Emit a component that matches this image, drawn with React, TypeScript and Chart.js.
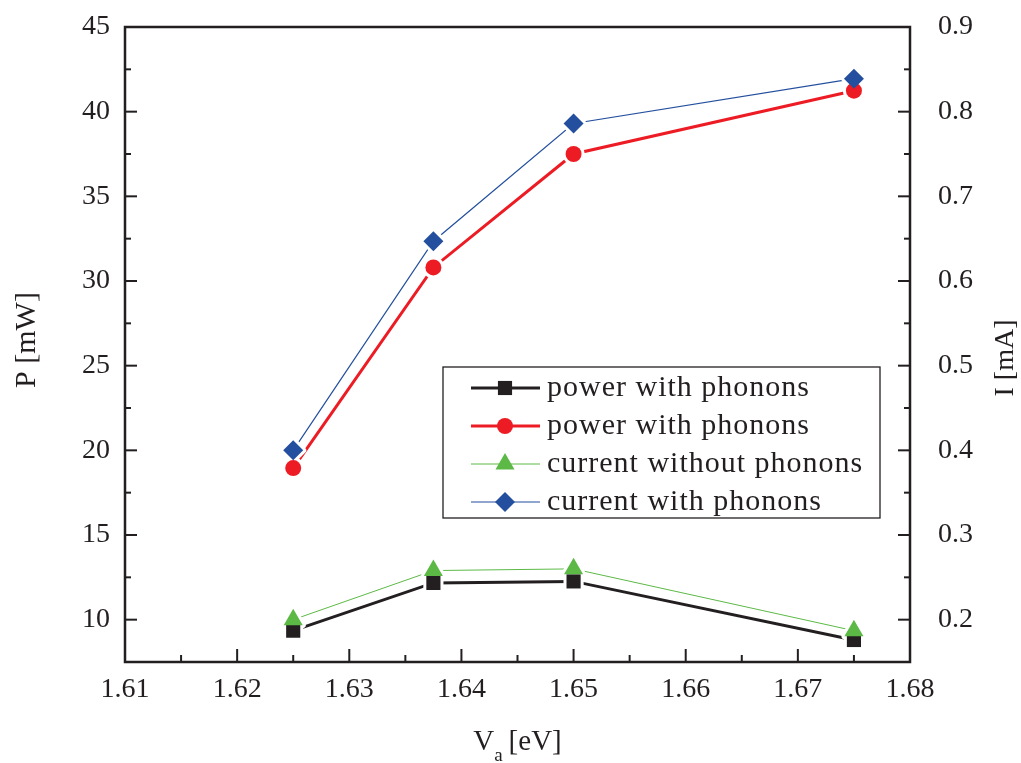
import React, { useEffect, useRef } from "react";
import { Chart, registerables } from "chart.js";

Chart.register(...registerables);

const voltages = [1.625, 1.6375, 1.65, 1.675];
const powerNoPhonons = [9.35, 12.17, 12.26, 8.8];
const powerWithPhonons = [18.95, 30.8, 37.5, 41.24];
const currentWithoutPhonons = [0.2, 0.258, 0.26, 0.187];
const currentWithPhonons = [0.4, 0.647, 0.786, 0.839];

const seriesLabels = [
  "power with phonons",
  "power with phonons",
  "current without phonons",
  "current with phonons",
];

const xMajorTicks = [1.61, 1.62, 1.63, 1.64, 1.65, 1.66, 1.67, 1.68];
const xMinorTicks = [1.615, 1.625, 1.635, 1.645, 1.655, 1.665, 1.675];
const leftMajorTicks = [10, 15, 20, 25, 30, 35, 40, 45];
const leftMinorTicks = [12.5, 17.5, 22.5, 27.5, 32.5, 37.5, 42.5];
const rightMajorTicks = [0.2, 0.3, 0.4, 0.5, 0.6, 0.7, 0.8, 0.9];
const rightMinorTicks = [0.25, 0.35, 0.45, 0.55, 0.65, 0.75, 0.85];

const INK = "#231f20";
const BLACK = "#231f20";
const RED = "#ed1c24";
const GREEN = "#5cb946";
const BLUE = "#244f9e";
const FONT = "'Liberation Serif', 'Times New Roman', serif";

const markerStyles = ["rect", "circle", "triangle", "rectRot"];
const markerRadii = [10, 8, 11, 10];
const HALO = 6;

const pts = (ys: number[]) => voltages.map((x, i) => ({ x, y: ys[i] }));

function markerPath(ctx: CanvasRenderingContext2D, style: string, r: number, x: number, y: number) {
  ctx.beginPath();
  if (style === "rect") {
    const s = r * Math.SQRT1_2;
    ctx.rect(x - s, y - s, 2 * s, 2 * s);
  } else if (style === "circle") {
    ctx.arc(x, y, r, 0, Math.PI * 2);
  } else if (style === "triangle") {
    ctx.moveTo(x, y - r);
    ctx.lineTo(x + r * Math.sin(Math.PI * 2 / 3), y - r * Math.cos(Math.PI * 2 / 3));
    ctx.lineTo(x - r * Math.sin(Math.PI * 2 / 3), y - r * Math.cos(Math.PI * 2 / 3));
    ctx.closePath();
  } else {
    ctx.moveTo(x, y - r);
    ctx.lineTo(x + r, y);
    ctx.lineTo(x, y + r);
    ctx.lineTo(x - r, y);
    ctx.closePath();
  }
}

const zeroPad = (s: any) => {
  s.paddingTop = 0;
  s.paddingBottom = 0;
  s.paddingLeft = 0;
  s.paddingRight = 0;
};

const markersPlugin = {
  id: "markers",
  afterDatasetsDraw(chart: any) {
    const { ctx } = chart;
    ctx.save();
    const n = chart.data.datasets.length;
    // pass 1: white halos that open a small gap in the lines
    for (let i = 0; i < n; i++) {
      const meta = chart.getDatasetMeta(i);
      meta.data.forEach((el: any) => {
        markerPath(ctx, markerStyles[i], markerRadii[i], el.x, el.y);
        ctx.lineJoin = "round";
        ctx.lineWidth = HALO;
        ctx.strokeStyle = "#ffffff";
        ctx.stroke();
      });
    }
    // pass 2: filled markers
    for (let i = 0; i < n; i++) {
      const meta = chart.getDatasetMeta(i);
      const color = chart.data.datasets[i].borderColor;
      meta.data.forEach((el: any) => {
        markerPath(ctx, markerStyles[i], markerRadii[i], el.x, el.y);
        ctx.fillStyle = color;
        ctx.fill();
      });
    }
    ctx.restore();
  },
};

const framePlugin = {
  id: "frameAndExtras",
  afterDraw(chart: any) {
    const { ctx, chartArea: a, scales } = chart;
    const sx = scales.x;
    const sy = scales.y;
    const sy2 = scales.y2;
    ctx.save();
    ctx.strokeStyle = INK;
    ctx.lineCap = "butt";
    ctx.lineWidth = 2;
    const seg = (x1: number, y1: number, x2: number, y2: number) => {
      ctx.beginPath();
      ctx.moveTo(x1, y1);
      ctx.lineTo(x2, y2);
      ctx.stroke();
    };
    xMajorTicks.forEach((v) => {
      const p = sx.getPixelForValue(v);
      seg(p, a.bottom, p, a.bottom - 13);
    });
    xMinorTicks.forEach((v) => {
      const p = sx.getPixelForValue(v);
      seg(p, a.bottom, p, a.bottom - 7);
    });
    leftMajorTicks.forEach((v) => {
      const p = sy.getPixelForValue(v);
      seg(a.left, p, a.left + 12, p);
    });
    leftMinorTicks.forEach((v) => {
      const p = sy.getPixelForValue(v);
      seg(a.left, p, a.left + 6, p);
    });
    rightMajorTicks.forEach((v) => {
      const p = sy2.getPixelForValue(v);
      seg(a.right, p, a.right - 12, p);
    });
    rightMinorTicks.forEach((v) => {
      const p = sy2.getPixelForValue(v);
      seg(a.right, p, a.right - 6, p);
    });
    ctx.lineWidth = 2.5;
    ctx.strokeRect(a.left, a.top, a.right - a.left, a.bottom - a.top);

    ctx.fillStyle = INK;
    ctx.textAlign = "center";
    ctx.textBaseline = "middle";
    ctx.font = `30px ${FONT}`;
    ctx.save();
    ctx.translate(27, 340);
    ctx.rotate(-Math.PI / 2);
    ctx.fillText("P [mW]", 0, 0);
    ctx.restore();
    ctx.font = `28px ${FONT}`;
    ctx.save();
    ctx.translate(1006, 358);
    ctx.rotate(-Math.PI / 2);
    ctx.fillText("I [mA]", 0, 0);
    ctx.restore();

    ctx.textAlign = "left";
    ctx.textBaseline = "alphabetic";
    const big = `29px ${FONT}`;
    const small = `19px ${FONT}`;
    ctx.font = big;
    const wV = ctx.measureText("V").width;
    const wRest = ctx.measureText("[eV]").width;
    ctx.font = small;
    const wA = ctx.measureText("a").width;
    const gap = 6;
    const total = wV + wA + gap + wRest;
    let tx = (a.left + a.right) / 2 - total / 2;
    const base = 750;
    ctx.font = big;
    ctx.fillText("V", tx, base);
    tx += wV;
    ctx.font = small;
    ctx.fillText("a", tx, base + 11);
    tx += wA + gap;
    ctx.font = big;
    ctx.fillText("[eV]", tx, base);

    const lx = 443;
    const ly = 367;
    const lw = 437;
    const lh = 151;
    ctx.fillStyle = "#ffffff";
    ctx.fillRect(lx, ly, lw, lh);
    ctx.lineWidth = 1.3;
    ctx.strokeStyle = INK;
    ctx.strokeRect(lx, ly, lw, lh);
    const rows = [388, 426, 464, 502];
    chart.data.datasets.forEach((ds: any, i: number) => {
      const ry = rows[i];
      ctx.strokeStyle = ds.borderColor;
      ctx.lineWidth = ds.borderWidth;
      seg(471, ry, 540, ry);
      markerPath(ctx, markerStyles[i], markerRadii[i], 505, ry);
      ctx.fillStyle = ds.borderColor;
      ctx.fill();
      ctx.fillStyle = INK;
      ctx.font = `30px ${FONT}`;
      (ctx as any).letterSpacing = "1px";
      ctx.textAlign = "left";
      ctx.textBaseline = "middle";
      ctx.fillText(seriesLabels[i], 547, ry);
      (ctx as any).letterSpacing = "0px";
    });
    ctx.restore();
  },
};

export default function App() {
  const ref = useRef<HTMLCanvasElement | null>(null);
  useEffect(() => {
    if (!ref.current) return;
    const tickFont = { family: FONT, size: 28 };
    const colors = [BLACK, RED, GREEN, BLUE];
    const values = [powerNoPhonons, powerWithPhonons, currentWithoutPhonons, currentWithPhonons];
    const axes = ["y", "y", "y2", "y2"];
    const widths = [3, 3, 1, 1.2];
    const chart = new Chart(ref.current, {
      type: "line",
      data: {
        datasets: values.map((vals, i) => ({
          label: seriesLabels[i],
          data: pts(vals),
          yAxisID: axes[i],
          borderColor: colors[i],
          backgroundColor: colors[i],
          borderWidth: widths[i],
          pointStyle: markerStyles[i] as any,
          pointRadius: 0,
          pointHoverRadius: 0,
        })),
      },
      options: {
        responsive: false,
        animation: false,
        layout: { padding: { top: 27, left: 0, right: 0, bottom: 0 } },
        plugins: {
          legend: { display: false },
          tooltip: { enabled: false },
          title: { display: false },
        },
        elements: { line: { tension: 0 } },
        scales: {
          x: {
            type: "linear",
            min: 1.61,
            max: 1.68,
            grid: { display: false, drawTicks: false },
            border: { display: false },
            afterBuildTicks: (s: any) => {
              s.ticks = xMajorTicks.map((v) => ({ value: v }));
            },
            afterFit: (s: any) => {
              s.height = 101;
              zeroPad(s);
            },
            ticks: {
              font: tickFont,
              color: INK,
              padding: 11,
              maxRotation: 0,
              autoSkip: false,
              callback: (v: any) => Number(v).toFixed(2),
            },
          },
          y: {
            type: "linear",
            position: "left",
            min: 7.5,
            max: 45,
            grid: { display: false, drawTicks: false },
            border: { display: false },
            afterBuildTicks: (s: any) => {
              s.ticks = leftMajorTicks.map((v) => ({ value: v }));
            },
            afterFit: (s: any) => {
              s.width = 125;
              zeroPad(s);
            },
            ticks: {
              font: tickFont,
              color: INK,
              padding: 15,
              autoSkip: false,
              callback: (v: any) => String(v),
            },
          },
          y2: {
            type: "linear",
            position: "right",
            min: 0.15,
            max: 0.9,
            grid: { display: false, drawTicks: false },
            border: { display: false },
            afterBuildTicks: (s: any) => {
              s.ticks = rightMajorTicks.map((v) => ({ value: v }));
            },
            afterFit: (s: any) => {
              s.width = 111;
              zeroPad(s);
            },
            ticks: {
              font: tickFont,
              color: INK,
              padding: 28,
              autoSkip: false,
              callback: (v: any) => Number(v).toFixed(1),
            },
          },
        },
      },
      plugins: [markersPlugin, framePlugin],
    });
    return () => chart.destroy();
  }, []);
  return (
    <div style={{ position: "absolute", left: 0, top: 0, width: 1021, height: 763, background: "#fff" }}>
      <canvas ref={ref} width={1021} height={763} style={{ display: "block" }} />
    </div>
  );
}
